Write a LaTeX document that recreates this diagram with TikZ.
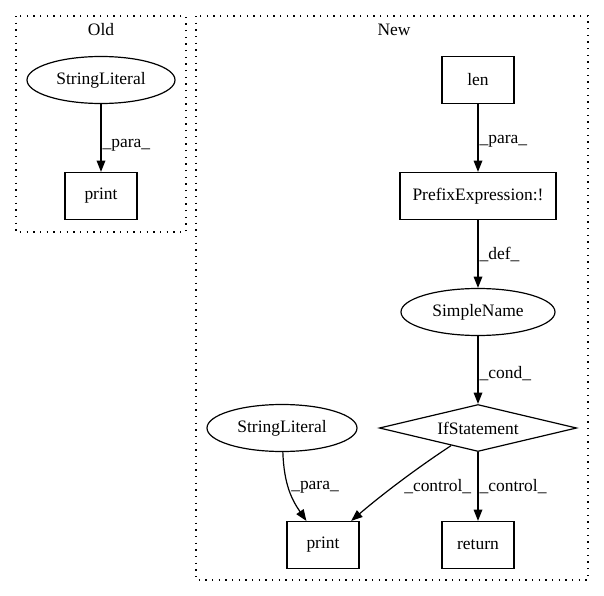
\documentclass[tikz,border=0pt]{standalone}
\usepackage{fontspec}
\setmainfont{Liberation Serif}
\usepackage{xcolor}
\usetikzlibrary{shapes.geometric,arrows.meta}

\begin{document}
\begin{tikzpicture}[x=0.75pt,y=0.75pt,yscale=-1,xscale=1,
	every node/.style={font=\fontsize{13.1}{15}\selectfont},
	box/.style={draw, rectangle, line width=0.9pt, minimum width=54pt, minimum height=35.25pt, inner sep=0.75pt},
	oval/.style={draw, ellipse, line width=0.9pt, minimum height=35.25pt, inner sep=0.75pt},
	cond/.style={draw, diamond, line width=0.9pt, minimum width=148pt, minimum height=35.25pt, inner sep=0pt, aspect=4},
	edge/.style={line width=0.9pt, -{Triangle[length=8.5pt,width=6.5pt]}},
	lbl/.style={anchor=west, inner sep=0.75pt},
	cluster/.style={line width=1pt, dash pattern=on 1pt off 4pt}]
	
	\useasboundingbox (0,0) rectangle (604,596);
	
	%Shape: Rectangle [id:old_cluster] 
	\draw [cluster] (16,16) rectangle (186,232) ;
	%Shape: Rectangle [id:new_cluster] 
	\draw [cluster] (196,16) rectangle (588,580) ;
	
	% Text Node
	\node (old_title) at (101,30) {Old};
	% Text Node
	\node (new_title) at (394,30) {New};
	
	% Old graph
	\node [oval, minimum width=111pt] (old_lit) at (101,80) {StringLiteral};
	\node [box] (old_print) at (101,196) {print};
	
	% New graph
	\node [box] (len) at (478,80) {len};
	\node [box, minimum width=117pt] (prefix) at (478,196) {PrefixExpression:!};
	\node [oval, minimum width=115.5pt] (simple) at (478,312) {SimpleName};
	\node [cond] (ifst) at (478,428) {IfStatement};
	\node [oval, minimum width=112.5pt] (new_lit) at (282,428) {StringLiteral};
	\node [box] (new_print) at (323,545) {print};
	\node [box] (ret) at (478,545) {return};
	
	%Straight Lines [id:old_para] 
	\draw [edge] (old_lit) -- (old_print) node [lbl, pos=0.6] (old_para_lbl) {\_para\_};
	%Straight Lines [id:len_para] 
	\draw [edge] (len) -- (prefix) node [lbl, pos=0.55] (len_para_lbl) {\_para\_};
	%Straight Lines [id:prefix_def] 
	\draw [edge] (prefix) -- (simple) node [lbl, pos=0.5] (def_lbl) {\_def\_};
	%Straight Lines [id:simple_cond] 
	\draw [edge] (simple) -- (ifst) node [lbl, pos=0.55] (cond_lbl) {\_cond\_};
	%Straight Lines [id:if_return] 
	\draw [edge] (ifst) -- (ret) node [lbl, pos=0.5] (ret_lbl) {\_control\_};
	%Curve Lines [id:lit_print] 
	\draw [edge] (new_lit) .. controls (284,485) and (292,500) .. (new_print) ;
	%Curve Lines [id:if_print] 
	\draw [edge] (ifst) .. controls (420,466) and (385,492) .. (new_print) ;
	
	% Text Node
	\node [lbl] (new_para_lbl) at (290,487) {\_para\_};
	% Text Node
	\node [lbl] (print_ctrl_lbl) at (403,487) {\_control\_};
	
\end{tikzpicture}
\end{document}
